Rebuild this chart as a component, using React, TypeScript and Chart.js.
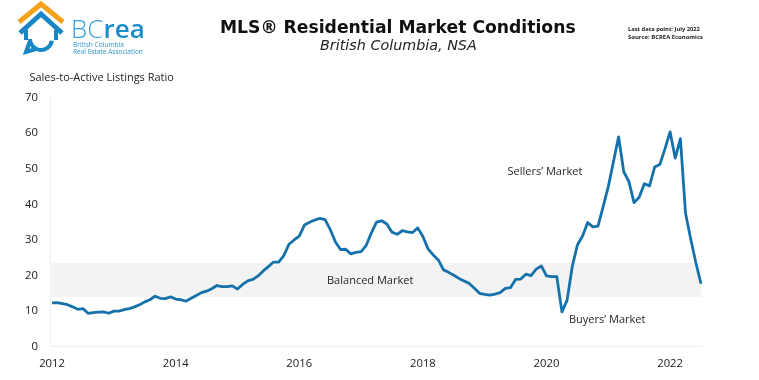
import React, { useEffect, useRef } from 'react';
import { Chart, registerables } from 'chart.js';

Chart.register(...registerables);

// ---- Data (monthly, Jan 2012 – Jul 2022) ----
const startYear = 2012;
const yearTickLabels = ['2012', '2014', '2016', '2018', '2020', '2022'];
const yTicks = [0, 10, 20, 30, 40, 50, 60, 70];

const ratio2012 = [12.3, 12.4, 12.1, 11.8, 11.2, 10.5, 10.7, 9.4, 9.6, 9.7, 9.8, 9.4];
const ratio2013 = [10.0, 10.0, 10.4, 10.7, 11.2, 11.8, 12.6, 13.2, 14.2, 13.6, 13.5, 14.0];
const ratio2014 = [13.4, 13.2, 12.8, 13.6, 14.4, 15.2, 15.6, 16.3, 17.2, 16.9, 16.9, 17.1];
const ratio2015 = [16.2, 17.5, 18.5, 18.9, 19.9, 21.3, 22.5, 23.8, 23.8, 25.6, 28.8, 30.0];
const ratio2016 = [31.1, 34.2, 35.0, 35.6, 36.1, 35.7, 33.0, 29.5, 27.3, 27.4, 26.1, 26.5];
const ratio2017 = [26.7, 28.5, 32.0, 35.0, 35.4, 34.5, 32.2, 31.6, 32.6, 32.3, 32.1, 33.4];
const ratio2018 = [31.0, 27.5, 25.8, 24.4, 21.6, 20.9, 20.1, 19.2, 18.5, 17.8, 16.4, 15.0];
const ratio2019 = [14.7, 14.5, 14.8, 15.2, 16.4, 16.6, 18.9, 19.0, 20.4, 20.0, 21.8, 22.7];
const ratio2020 = [19.9, 19.7, 19.7, 9.8, 13.1, 22.5, 28.6, 31.1, 34.9, 33.7, 33.9, 39.4];
const ratio2021 = [45.0, 52.0, 59.0, 49.2, 46.4, 40.5, 42.0, 45.8, 45.2, 50.5, 51.2, 55.6];
const ratio2022 = [60.4, 53.0, 58.5, 37.5, 30.3, 23.6, 17.7];

const ratio = [
  ...ratio2012, ...ratio2013, ...ratio2014, ...ratio2015, ...ratio2016, ...ratio2017,
  ...ratio2018, ...ratio2019, ...ratio2020, ...ratio2021, ...ratio2022,
];

const balancedLow = 14;
const balancedHigh = 23.5;

// ---- Drawing helpers ----
function fitText(
  ctx: CanvasRenderingContext2D,
  text: string,
  x: number,
  y: number,
  width: number,
  style: string,
  family: string,
  color: string,
) {
  ctx.font = `${style} 100px ${family}`;
  const w = ctx.measureText(text).width;
  const size = (100 * width) / w;
  ctx.font = `${style} ${size}px ${family}`;
  ctx.fillStyle = color;
  ctx.textAlign = 'left';
  ctx.textBaseline = 'middle';
  ctx.fillText(text, x, y);
}

function drawLogo(ctx: CanvasRenderingContext2D) {
  ctx.save();
  ctx.lineJoin = 'miter';
  ctx.lineCap = 'butt';
  // orange roof
  ctx.strokeStyle = '#f6a21d';
  ctx.lineWidth = 5;
  ctx.beginPath();
  ctx.moveTo(19, 22);
  ctx.lineTo(41, 4);
  ctx.lineTo(63, 22);
  ctx.stroke();
  // blue roof
  ctx.strokeStyle = '#1b86c6';
  ctx.lineWidth = 5;
  ctx.beginPath();
  ctx.moveTo(20, 33);
  ctx.lineTo(41, 14);
  ctx.lineTo(62, 33);
  ctx.stroke();
  // walls + round bottom
  ctx.lineWidth = 4;
  ctx.beginPath();
  ctx.moveTo(26, 30);
  ctx.lineTo(26, 40);
  ctx.stroke();
  ctx.beginPath();
  ctx.moveTo(56, 30);
  ctx.lineTo(56, 40);
  ctx.stroke();
  ctx.beginPath();
  ctx.arc(41, 39, 11, Math.PI * 0.05, Math.PI * 1.0);
  ctx.stroke();
  ctx.beginPath();
  ctx.moveTo(30, 41);
  ctx.lineTo(26, 52);
  ctx.lineTo(36, 49);
  ctx.stroke();
  // text
  ctx.fillStyle = '#3aa0dc';
  ctx.font = '300 26px "Open Sans"';
  ctx.textBaseline = 'alphabetic';
  ctx.textAlign = 'left';
  ctx.fillText('BC', 71, 38);
  const bcW = ctx.measureText('BC').width;
  ctx.fillStyle = '#1a8bcc';
  ctx.font = '600 26px "Open Sans"';
  ctx.fillText('rea', 71 + bcW, 38);
  ctx.restore();
  fitText(ctx, 'British Columbia', 73, 45.5, 51, '400', '"Open Sans"', '#2f95d2');
  fitText(ctx, 'Real Estate Association', 73, 52.3, 70, '400', '"Open Sans"', '#2f95d2');
}

const overlayPlugin = {
  id: 'overlay',
  beforeDatasetsDraw(chart: any) {
    const { ctx, chartArea, scales } = chart;
    const y = scales.y;
    const top = y.getPixelForValue(balancedHigh);
    const bot = y.getPixelForValue(balancedLow);
    ctx.save();
    ctx.fillStyle = '#f3f3f3';
    ctx.fillRect(chartArea.left, top, chartArea.right - chartArea.left, bot - top);
    ctx.restore();
  },
  afterDraw(chart: any) {
    const { ctx } = chart;
    ctx.save();
    fitText(ctx, 'MLS® Residential Market Conditions', 220, 28.5, 356, 'bold', '"DejaVu Sans"', '#111111');
    fitText(ctx, 'British Columbia, NSA', 320, 46, 157, 'italic', '"DejaVu Sans"', '#222222');
    fitText(ctx, 'Last data point: July 2022', 628, 29.3, 72, 'bold', '"Open Sans"', '#222222');
    fitText(ctx, 'Source: BCREA Economics', 628, 37.3, 75, 'bold', '"Open Sans"', '#222222');
    fitText(ctx, 'Sales-to-Active Listings Ratio', 29.5, 78, 144.5, '400', '"Open Sans"', '#1e1e1e');
    fitText(ctx, 'Balanced Market', 327, 280.5, 86.5, '500', '"Open Sans"', '#262626');
    fitText(ctx, 'Sellers’ Market', 507.5, 171.5, 75, '500', '"Open Sans"', '#262626');
    fitText(ctx, 'Buyers’ Market', 569, 319.5, 76.5, '500', '"Open Sans"', '#262626');
    drawLogo(ctx);
    ctx.restore();
  },
};

export default function App() {
  const ref = useRef<HTMLCanvasElement | null>(null);

  useEffect(() => {
    if (!ref.current) return;
    const points = ratio.map((v, i) => ({ x: i, y: v }));
    const chart = new Chart(ref.current, {
      type: 'line',
      data: {
        datasets: [
          {
            data: points,
            borderColor: '#1571aa',
            borderWidth: 2.8,
            pointRadius: 0,
            tension: 0,
            fill: false,
            borderJoinStyle: 'round',
            clip: false as any,
          },
        ],
      },
      options: {
        animation: false,
        responsive: false,
        maintainAspectRatio: false,
        events: [],
        layout: { padding: { top: 97.7, right: 58, bottom: 0, left: 0 } },
        plugins: { legend: { display: false }, tooltip: { enabled: false } },
        scales: {
          x: {
            type: 'linear',
            min: -0.4,
            max: 126,
            grid: { display: false, drawTicks: false },
            border: { display: true, color: '#ededed', width: 1 },
            afterBuildTicks: (axis: any) => {
              axis.ticks = yearTickLabels.map((_, i) => ({ value: i * 24 }));
            },
            afterFit: (axis: any) => {
              axis.height = 33.3;
            },
            ticks: {
              autoSkip: false,
              maxRotation: 0,
              padding: 10,
              color: '#1a1a1a',
              font: { family: '"Open Sans"', size: 11.3 },
              callback: (_v: any, i: number) => yearTickLabels[i],
            },
          },
          y: {
            min: 0,
            max: 70,
            grid: { display: false, drawTicks: false },
            border: { display: true, color: '#ededed', width: 1 },
            afterBuildTicks: (axis: any) => {
              axis.ticks = yTicks.map((v) => ({ value: v }));
            },
            afterFit: (axis: any) => {
              axis.width = 50;
            },
            ticks: {
              padding: 12,
              color: '#1a1a1a',
              font: { family: '"Open Sans"', size: 11.3 },
              callback: (v: any) => String(v),
            },
          },
        },
      },
      plugins: [overlayPlugin],
    });
    return () => chart.destroy();
  }, []);

  return (
    <div style={{ position: 'absolute', left: 0, top: 0, width: 759, height: 380, background: '#fff' }}>
      <canvas ref={ref} width={759} height={380} style={{ display: 'block', width: 759, height: 380 }} />
    </div>
  );
}
